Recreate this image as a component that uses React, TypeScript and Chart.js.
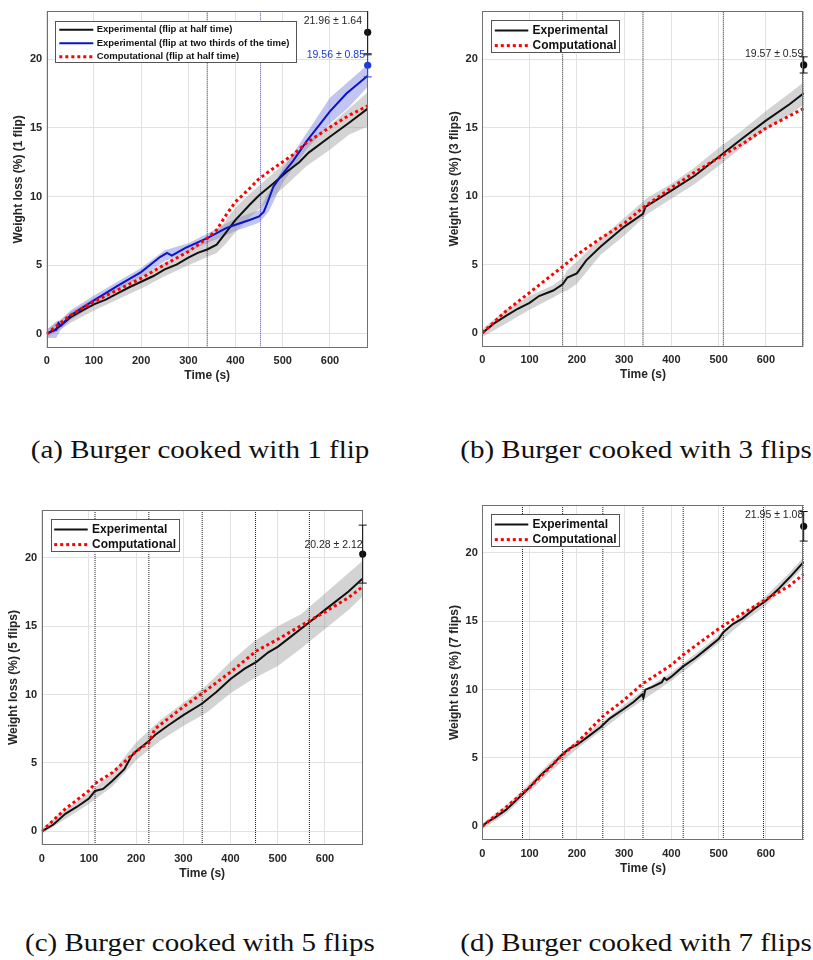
import { useEffect, useRef } from "react";
import { Chart, registerables } from "chart.js";
Chart.register(...registerables);

const FONT = '"Liberation Sans", Arial, Helvetica, sans-serif';
const SERIF = '"Liberation Serif", "Times New Roman", serif';

// ---------- shared axis ----------
const X_MIN = 0;
const X_MAX = 680;
const Y_MIN = -1;
const Y_MAX = 23.5;
const X_STEP = 100;
const Y_STEP = 5;

// ---------- panel (a): 1 flip ----------
const a_expTime = [0, 20, 50, 75, 100, 125, 150, 175, 200, 225, 250, 275, 300, 320, 340, 360, 380, 400, 430, 450, 480, 510, 535, 555, 600, 640, 680];
const a_exp = [0, 0.35, 1.2, 1.7, 2.15, 2.5, 2.95, 3.4, 3.8, 4.2, 4.7, 5.05, 5.55, 5.9, 6.15, 6.5, 7.4, 8.3, 9.4, 10.1, 10.95, 11.85, 12.5, 13.2, 14.35, 15.35, 16.4];
const a_exp2Time = [0, 10, 20, 25, 30, 50, 75, 100, 150, 200, 240, 255, 265, 293, 340, 380, 400, 430, 450, 460, 468, 480, 495, 520, 550, 600, 635, 680];
const a_exp2 = [0, 0.2, 0.3, 0.8, 0.6, 1.35, 1.9, 2.45, 3.5, 4.5, 5.6, 5.9, 5.7, 6.25, 6.97, 7.7, 7.95, 8.3, 8.55, 8.9, 9.6, 10.7, 11.45, 12.5, 14.0, 16.2, 17.5, 18.8];
const a_compTime = [0, 25, 50, 100, 150, 200, 250, 300, 340, 360, 380, 400, 430, 450, 480, 520, 550, 600, 640, 680];
const a_comp = [0, 0.7, 1.35, 2.35, 3.2, 4.05, 5.05, 6.0, 6.97, 7.57, 8.66, 9.62, 10.6, 11.3, 12.05, 13.0, 13.9, 15.05, 15.9, 16.6];
const a_bandTime = [0, 50, 100, 150, 200, 250, 300, 340, 360, 380, 400, 430, 460, 500, 550, 600, 640, 680];
const a_bandUp = [0.3, 1.6, 2.6, 3.4, 4.3, 5.2, 6.1, 6.8, 7.3, 8.3, 9.2, 10.2, 11.1, 12.3, 13.9, 15.2, 16.4, 17.6];
const a_bandLo = [-0.3, 0.8, 1.7, 2.5, 3.3, 4.2, 5.0, 5.6, 5.9, 6.6, 7.4, 8.5, 9.4, 10.6, 12.2, 13.4, 14.5, 15.1];
const a_band2Time = [0, 20, 30, 50, 100, 150, 200, 250, 300, 340, 400, 450, 470, 500, 550, 600, 640, 680];
const a_band2Up = [0.3, 0.9, 1.0, 1.7, 2.8, 3.8, 4.8, 6.1, 6.6, 7.3, 8.4, 9.0, 10.3, 12.0, 14.6, 17.2, 18.4, 19.6];
const a_band2Lo = [-0.3, -0.3, 0.3, 1.0, 2.1, 3.2, 4.2, 5.3, 6.0, 6.6, 7.5, 8.1, 8.9, 11.0, 13.4, 15.3, 16.5, 18.0];
const a_flips = [340, 680];
const a_flips2 = [453];
const a_final = [21.96, 19.56];
const a_finalSd = [1.64, 0.85];
const a_labels = ["Experimental (flip at half time)", "Experimental (flip at two thirds of the time)", "Computational (flip at half time)"];

// ---------- panel (b): 3 flips ----------
const b_expTime = [0, 25, 50, 75, 100, 120, 150, 170, 180, 200, 220, 250, 300, 340, 345, 400, 450, 500, 550, 600, 650, 680];
const b_exp = [0, 0.7, 1.25, 1.77, 2.2, 2.7, 3.1, 3.55, 4.05, 4.35, 5.3, 6.3, 7.75, 8.7, 9.2, 10.4, 11.5, 12.85, 14.2, 15.5, 16.7, 17.5];
const b_compTime = [0, 50, 100, 170, 200, 250, 300, 340, 400, 450, 510, 550, 600, 650, 680];
const b_comp = [0, 1.6, 2.95, 4.85, 5.7, 6.9, 8.0, 9.15, 10.6, 11.75, 13.0, 13.8, 14.95, 15.85, 16.4];
const b_bandTime = [0, 50, 100, 150, 170, 180, 200, 250, 300, 350, 400, 450, 500, 550, 600, 650, 680];
const b_bandUp = [0.3, 1.7, 2.7, 3.5, 4.0, 4.6, 5.2, 6.9, 8.4, 9.9, 10.9, 12.1, 13.5, 14.8, 16.2, 17.5, 18.3];
const b_bandLo = [-0.3, 0.7, 1.7, 2.6, 3.0, 3.1, 3.6, 5.7, 7.1, 8.7, 9.8, 10.9, 12.2, 13.6, 14.8, 15.9, 16.7];
const b_flips = [170, 340, 510, 680];
const b_final = [19.57];
const b_finalSd = [0.59];

// ---------- panel (c): 5 flips ----------
const c_expTime = [0, 25, 50, 75, 100, 113, 130, 150, 175, 190, 200, 227, 240, 270, 300, 340, 370, 400, 430, 455, 480, 500, 530, 567, 600, 650, 680];
const c_exp = [0, 0.5, 1.28, 1.8, 2.4, 2.95, 3.1, 3.7, 4.55, 5.5, 5.85, 6.6, 7.05, 7.8, 8.5, 9.35, 10.2, 11.15, 11.9, 12.4, 13.1, 13.5, 14.3, 15.3, 16.2, 17.55, 18.5];
const c_compTime = [0, 50, 100, 113, 150, 200, 227, 240, 300, 340, 400, 455, 500, 567, 600, 650, 680];
const c_comp = [0, 1.64, 2.97, 3.5, 4.3, 5.85, 6.5, 7.5, 9.1, 10.1, 11.65, 13.2, 14.05, 15.4, 16.05, 17.1, 17.9];
const c_bandTime = [0, 50, 100, 150, 200, 250, 300, 350, 400, 450, 500, 550, 600, 650, 680];
const c_bandUp = [0.2, 1.6, 2.8, 4.3, 6.5, 8.1, 9.4, 10.7, 12.4, 13.9, 15.0, 15.9, 17.4, 18.9, 19.8];
const c_bandLo = [-0.2, 0.9, 2.0, 3.3, 5.2, 6.6, 7.7, 8.7, 10.1, 11.2, 12.1, 13.4, 14.8, 16.2, 17.2];
const c_flips = [113, 227, 340, 453, 567, 680];
const c_final = [20.28];
const c_finalSd = [2.12];

// ---------- panel (d): 7 flips ----------
const d_expTime = [0, 10, 25, 50, 85, 100, 125, 150, 170, 185, 200, 225, 250, 270, 300, 320, 338, 341, 345, 360, 380, 385, 390, 400, 425, 450, 475, 500, 510, 530, 550, 575, 600, 625, 650, 680];
const d_exp = [0, 0.3, 0.6, 1.2, 2.35, 2.85, 3.8, 4.55, 5.3, 5.7, 5.95, 6.6, 7.25, 7.9, 8.6, 9.1, 9.65, 9.4, 10.0, 10.2, 10.55, 10.85, 10.7, 10.95, 11.7, 12.3, 13.0, 13.7, 14.2, 14.8, 15.2, 15.9, 16.5, 17.3, 18.2, 19.35];
const d_compTime = [0, 50, 100, 170, 200, 255, 300, 340, 400, 425, 500, 550, 600, 650, 680];
const d_comp = [0, 1.4, 2.85, 5.25, 6.1, 8.05, 9.25, 10.45, 11.8, 12.55, 14.45, 15.55, 16.6, 17.6, 18.45];
const d_bandTime = [0, 50, 100, 150, 200, 250, 300, 340, 400, 450, 500, 550, 600, 650, 680];
const d_bandUp = [0.2, 1.5, 3.15, 4.9, 6.25, 7.55, 8.9, 9.95, 11.25, 12.6, 14.0, 15.5, 16.85, 18.55, 19.7];
const d_bandLo = [-0.2, 0.9, 2.55, 4.2, 5.65, 6.95, 8.3, 9.25, 10.65, 12.0, 13.4, 14.9, 16.15, 17.85, 19.0];
const d_flips = [85, 170, 255, 340, 425, 510, 595, 680];
const d_final = [21.95];
const d_finalSd = [1.08];

const bcd_labels = ["Experimental", "Computational"];
const yTitles = ["Weight loss (%) (1 flip)", "Weight loss (%) (3 flips)", "Weight loss (%) (5 flips)", "Weight loss (%) (7 flips)"];
const xTitle = "Time (s)";
const captions = ["(a) Burger cooked with 1 flip", "(b) Burger cooked with 3 flips", "(c) Burger cooked with 5 flips", "(d) Burger cooked with 7 flips"];

// ---------- styles ----------
const BLACK = "#111111";
const BLUE = "#0a14c4";
const BLUE_TXT = "#1a3ad8";
const RED = "#ff0000";
const GRAY_BAND = "rgba(150,150,150,0.42)";
const BLUE_BAND = "rgba(70,80,210,0.33)";
const FLIP_COL = "#1a1a1a";
const FLIP2_COL = "#4a4ad0";
const TXT = "#262626";

const xy = (ts: number[], vs: number[]) => ts.map((t, i) => ({ x: t, y: vs[i] }));

type Series = { time: number[]; vals: number[]; color: string; width: number; dash?: number[] };
type Band = { time: number[]; up: number[]; lo: number[]; color: string };
type Final = { mean: number; sd: number; color: string; txtColor: string; dx: number; ty: number };
type Panel = {
  L: number; T: number; R: number; B: number;
  yTitle: string;
  series: Series[];
  labels: string[];
  bands: Band[];
  flips: { ts: number[]; color: string }[];
  finals: Final[];
  legend: { box: number[]; rows: number[]; line: number[]; text: number; size: number };
};

const LEG_BIG = { box: [9, 9.3, 128.5, 33.4], rows: [19.3, 34.5], line: [12.5, 46], text: 50.3, size: 12 };

const PANELS: Panel[] = [
  {
    L: 46.7, T: 10, R: 367.7, B: 347.7,
    yTitle: yTitles[0],
    series: [
      { time: a_expTime, vals: a_exp, color: BLACK, width: 2 },
      { time: a_exp2Time, vals: a_exp2, color: BLUE, width: 2 },
      { time: a_compTime, vals: a_comp, color: RED, width: 3, dash: [3, 3] },
    ],
    labels: a_labels,
    bands: [
      { time: a_bandTime, up: a_bandUp, lo: a_bandLo, color: GRAY_BAND },
      { time: a_band2Time, up: a_band2Up, lo: a_band2Lo, color: BLUE_BAND },
    ],
    flips: [{ ts: a_flips, color: FLIP_COL }, { ts: a_flips2, color: FLIP2_COL }],
    finals: [
      { mean: a_final[0], sd: a_finalSd[0], color: BLACK, txtColor: TXT, dx: 5.7, ty: 22.8 },
      { mean: a_final[1], sd: a_finalSd[1], color: BLUE_TXT, txtColor: BLUE_TXT, dx: 2.7, ty: 20.27 },
    ],
    legend: { box: [8.3, 10, 242, 42], rows: [18.7, 32.2, 45.7], line: [12.6, 46.6], text: 50, size: 9.5 },
  },
  {
    L: 482.3, T: 10, R: 803.7, B: 346.7,
    yTitle: yTitles[1],
    series: [
      { time: b_expTime, vals: b_exp, color: BLACK, width: 2 },
      { time: b_compTime, vals: b_comp, color: RED, width: 3, dash: [3, 3] },
    ],
    labels: bcd_labels,
    bands: [{ time: b_bandTime, up: b_bandUp, lo: b_bandLo, color: GRAY_BAND }],
    flips: [{ ts: b_flips, color: FLIP_COL }],
    finals: [{ mean: b_final[0], sd: b_finalSd[0], color: BLACK, txtColor: TXT, dx: 0.4, ty: 20.35 }],
    legend: LEG_BIG,
  },
  {
    L: 41.7, T: 509, R: 362.7, B: 845,
    yTitle: yTitles[2],
    series: [
      { time: c_expTime, vals: c_exp, color: BLACK, width: 2 },
      { time: c_compTime, vals: c_comp, color: RED, width: 3, dash: [3, 3] },
    ],
    labels: bcd_labels,
    bands: [{ time: c_bandTime, up: c_bandUp, lo: c_bandLo, color: GRAY_BAND }],
    flips: [{ ts: c_flips, color: FLIP_COL }],
    finals: [{ mean: c_final[0], sd: c_finalSd[0], color: BLACK, txtColor: TXT, dx: 0, ty: 20.97 }],
    legend: LEG_BIG,
  },
  {
    L: 482.3, T: 504, R: 803.7, B: 840,
    yTitle: yTitles[3],
    series: [
      { time: d_expTime, vals: d_exp, color: BLACK, width: 2 },
      { time: d_compTime, vals: d_comp, color: RED, width: 3, dash: [3, 3] },
    ],
    labels: bcd_labels,
    bands: [{ time: d_bandTime, up: d_bandUp, lo: d_bandLo, color: GRAY_BAND }],
    flips: [{ ts: d_flips, color: FLIP_COL }],
    finals: [{ mean: d_final[0], sd: d_finalSd[0], color: BLACK, txtColor: TXT, dx: 0.4, ty: 22.76 }],
    legend: LEG_BIG,
  },
];

const CAPTION_POS = [
  { cx: 200, cy: 450 },
  { cx: 636, cy: 450 },
  { cx: 200, cy: 943 },
  { cx: 636, cy: 943 },
];

const Y_AXIS_W = 35.2;
const X_AXIS_H = 35.5;

function makeDecor(p: Panel) {
  return {
    id: "decor",
    afterDatasetsDraw(chart: any) {
      const { ctx, chartArea: ca, scales } = chart;
      const xs = scales.x, ys = scales.y;
      ctx.save();
      // box
      ctx.strokeStyle = "#707070";
      ctx.lineWidth = 1;
      ctx.setLineDash([]);
      ctx.strokeRect(Math.round(ca.left) + 0.5, Math.round(ca.top) + 0.5, Math.round(ca.right - ca.left) - 1, Math.round(ca.bottom - ca.top) - 1);
      // error bars + annotations
      p.finals.forEach((f) => {
        const px = xs.getPixelForValue(X_MAX);
        const yTop = Math.max(ys.getPixelForValue(f.mean + f.sd), ca.top);
        const yBot = ys.getPixelForValue(f.mean - f.sd);
        ctx.strokeStyle = f.color;
        ctx.lineWidth = 1;
        ctx.beginPath();
        ctx.moveTo(px, yTop);
        ctx.lineTo(px, yBot);
        ctx.moveTo(px - 4, yBot);
        ctx.lineTo(px + 4, yBot);
        if (ys.getPixelForValue(f.mean + f.sd) >= ca.top) {
          ctx.moveTo(px - 4, yTop);
          ctx.lineTo(px + 4, yTop);
        }
        ctx.stroke();
        ctx.fillStyle = f.txtColor;
        ctx.font = `10.5px ${FONT}`;
        ctx.textAlign = "right";
        ctx.textBaseline = "middle";
        ctx.fillText(`${f.mean.toFixed(2)} \u00b1 ${f.sd.toFixed(2)}`, ca.right - f.dx, ys.getPixelForValue(f.ty));
      });
      // legend
      const lg = p.legend;
      const bx = ca.left + lg.box[0], by = ca.top + lg.box[1];
      ctx.fillStyle = "#ffffff";
      ctx.fillRect(bx, by, lg.box[2], lg.box[3]);
      ctx.strokeStyle = "#555555";
      ctx.lineWidth = 1;
      ctx.strokeRect(Math.round(bx) + 0.5, Math.round(by) + 0.5, Math.round(lg.box[2]) - 1, Math.round(lg.box[3]) - 1);
      p.series.forEach((s, i) => {
        const yy = ca.top + lg.rows[i];
        ctx.beginPath();
        ctx.setLineDash(s.dash || []);
        ctx.strokeStyle = s.color;
        ctx.lineWidth = s.width;
        ctx.moveTo(ca.left + lg.line[0], yy);
        ctx.lineTo(ca.left + lg.line[1], yy);
        ctx.stroke();
        ctx.setLineDash([]);
        ctx.fillStyle = "#111111";
        ctx.font = `bold ${lg.size}px ${FONT}`;
        ctx.textAlign = "left";
        ctx.textBaseline = "middle";
        ctx.fillText(p.labels[i], ca.left + lg.text, yy);
      });
      ctx.restore();
    },
  };
}

function PanelChart({ p }: { p: Panel }) {
  const ref = useRef<HTMLCanvasElement>(null);
  const cl = Math.round(p.L - 45);
  const ct = Math.round(p.T - 10);
  const W = Math.round(p.R + 9 - cl);
  const H = Math.round(p.B + X_AXIS_H + 4 - ct);
  useEffect(() => {
    if (!ref.current) return;
    const datasets: any[] = [];
    p.bands.forEach((b) => {
      datasets.push({ data: xy(b.time, b.up), borderWidth: 0, pointRadius: 0, fill: false, order: 10 });
      datasets.push({ data: xy(b.time, b.lo), borderWidth: 0, pointRadius: 0, fill: "-1", backgroundColor: b.color, order: 10 });
    });
    p.flips.forEach((f) => {
      f.ts.forEach((t) => {
        datasets.push({
          data: [{ x: t, y: Y_MIN }, { x: t, y: Y_MAX }],
          borderColor: f.color, borderWidth: 1, borderDash: [1, 1], pointRadius: 0, fill: false, order: 6,
        });
      });
    });
    p.series.forEach((s, i) => {
      datasets.push({
        data: xy(s.time, s.vals), borderColor: s.color, borderWidth: s.width, borderDash: s.dash || [],
        pointRadius: 0, fill: false, tension: 0, order: 3 - i * 0.5 + (s.dash ? -2 : 0),
      });
    });
    p.finals.forEach((f) => {
      datasets.push({
        type: "scatter", data: [{ x: X_MAX, y: f.mean }], pointRadius: 3.6, backgroundColor: f.color,
        borderWidth: 0, clip: false, order: 0,
      });
    });
    const padLeft = p.L - cl - Y_AXIS_W;
    const padTop = p.T - ct;
    const padRight = cl + W - p.R;
    const padBottom = ct + H - p.B - X_AXIS_H;
    const chart = new Chart(ref.current, {
      type: "line",
      data: { datasets },
      plugins: [makeDecor(p)],
      options: {
        responsive: false,
        animation: false,
        events: [],
        layout: { padding: { left: padLeft, top: padTop, right: padRight, bottom: padBottom } },
        plugins: { legend: { display: false }, tooltip: { enabled: false } },
        scales: {
          x: {
            type: "linear", min: X_MIN, max: X_MAX,
            ticks: { stepSize: X_STEP, includeBounds: false, color: TXT, font: { family: FONT, size: 11, weight: "bold" }, padding: 7, maxRotation: 0 },
            grid: { color: "#e2e2e2", drawTicks: false },
            border: { display: false },
            title: { display: true, text: xTitle, color: TXT, font: { family: FONT, size: 12, weight: "bold" }, padding: { top: 0, bottom: 0 } },
            afterFit: (s: any) => { s.height = X_AXIS_H; },
          },
          y: {
            type: "linear", min: Y_MIN, max: Y_MAX,
            ticks: { stepSize: Y_STEP, includeBounds: false, color: TXT, font: { family: FONT, size: 11, weight: "bold" }, padding: 4.5 },
            grid: { color: "#e2e2e2", drawTicks: false },
            border: { display: false },
            title: { display: true, text: p.yTitle, color: TXT, font: { family: FONT, size: 12, weight: "bold" }, padding: { top: 0, bottom: 0 } },
            afterFit: (s: any) => { s.width = Y_AXIS_W; },
          },
        },
      } as any,
    });
    return () => chart.destroy();
  }, []);
  return (
    <canvas
      ref={ref}
      width={W}
      height={H}
      style={{ position: "absolute", left: cl, top: ct, width: W, height: H }}
    />
  );
}

export default function App() {
  return (
    <div style={{ position: "absolute", left: 0, top: 0, width: 813, height: 960, background: "#fff", overflow: "hidden" }}>
      {PANELS.map((p, i) => (
        <PanelChart key={i} p={p} />
      ))}
      {captions.map((c, i) => (
        <div
          key={i}
          style={{
            position: "absolute", left: CAPTION_POS[i].cx, top: CAPTION_POS[i].cy - 14,
            transform: "translateX(-50%) scaleX(1.16)",
            whiteSpace: "nowrap", fontFamily: SERIF, fontSize: 25, lineHeight: "28px", color: "#111",
          }}
        >
          {c}
        </div>
      ))}
    </div>
  );
}
